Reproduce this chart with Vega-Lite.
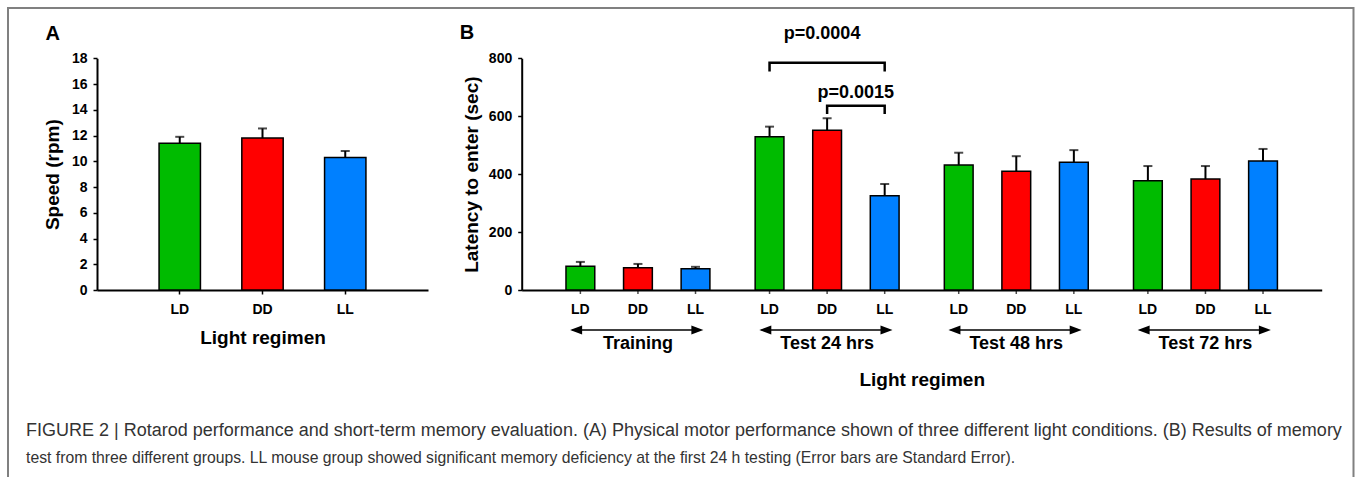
{
  "$schema": "https://vega.github.io/schema/vega-lite/v6.json",
  "width": 1345.5,
  "height": 475,
  "autosize": {"type": "none"},
  "padding": {"left": 8, "top": 8, "right": 4.5, "bottom": -6},
  "title": {
    "text": "FIGURE 2 | Rotarod performance and short-term memory evaluation. (A) Physical motor performance shown of three different light conditions. (B) Results of memory",
    "subtitle": "test from three different groups. LL mouse group showed significant memory deficiency at the first 24 h testing (Error bars are Standard Error).",
    "orient": "bottom",
    "anchor": "start",
    "frame": "group",
    "offset": -61,
    "dx": 18,
    "font": "Liberation Sans",
    "fontSize": 18,
    "fontWeight": "normal",
    "color": "#333333",
    "subtitleFont": "Liberation Sans",
    "subtitleFontSize": 15.75,
    "subtitleFontWeight": "normal",
    "subtitleColor": "#333333",
    "subtitlePadding": 11
  },
  "config": {
    "font": "Liberation Sans",
    "view": {"stroke": "#808080", "strokeWidth": 2},
    "axis": {
      "grid": false,
      "domainColor": "black",
      "domainWidth": 2,
      "tickColor": "black",
      "tickWidth": 1.5,
      "tickSize": 4,
      "labelFont": "Liberation Sans",
      "labelFontWeight": "bold",
      "labelFontSize": 14,
      "labelColor": "black",
      "titleFont": "Liberation Sans",
      "titleFontWeight": "bold",
      "titleFontSize": 19,
      "titleColor": "black"
    }
  },
  "datasets": {
    "speed": [
      {"regimen": "LD", "speed": 11.4, "upper": 11.9},
      {"regimen": "DD", "speed": 11.8, "upper": 12.55},
      {"regimen": "LL", "speed": 10.3, "upper": 10.8}
    ],
    "latency": [
      {"session": "Training", "regimen": "LD", "latency": 82, "upper": 97},
      {"session": "Training", "regimen": "DD", "latency": 77, "upper": 90},
      {"session": "Training", "regimen": "LL", "latency": 73, "upper": 80},
      {"session": "Test 24 hrs", "regimen": "LD", "latency": 529, "upper": 564},
      {"session": "Test 24 hrs", "regimen": "DD", "latency": 552, "upper": 593},
      {"session": "Test 24 hrs", "regimen": "LL", "latency": 325, "upper": 366},
      {"session": "Test 48 hrs", "regimen": "LD", "latency": 432, "upper": 474},
      {"session": "Test 48 hrs", "regimen": "DD", "latency": 410, "upper": 462},
      {"session": "Test 48 hrs", "regimen": "LL", "latency": 441, "upper": 483},
      {"session": "Test 72 hrs", "regimen": "LD", "latency": 377, "upper": 428},
      {"session": "Test 72 hrs", "regimen": "DD", "latency": 383, "upper": 428},
      {"session": "Test 72 hrs", "regimen": "LL", "latency": 445, "upper": 487}
    ],
    "sessions": [
      {"session": "Training"},
      {"session": "Test 24 hrs"},
      {"session": "Test 48 hrs"},
      {"session": "Test 72 hrs"}
    ],
    "brackets": [
      {"bracket": "LD vs LL", "session": "Test 24 hrs", "regimen": "LD", "level": 754, "i": 1},
      {"bracket": "LD vs LL", "session": "Test 24 hrs", "regimen": "LD", "level": 785, "i": 2},
      {"bracket": "LD vs LL", "session": "Test 24 hrs", "regimen": "LL", "level": 785, "i": 3},
      {"bracket": "LD vs LL", "session": "Test 24 hrs", "regimen": "LL", "level": 754, "i": 4},
      {"bracket": "DD vs LL", "session": "Test 24 hrs", "regimen": "DD", "level": 608, "i": 1},
      {"bracket": "DD vs LL", "session": "Test 24 hrs", "regimen": "DD", "level": 636, "i": 2},
      {"bracket": "DD vs LL", "session": "Test 24 hrs", "regimen": "LL", "level": 636, "i": 3},
      {"bracket": "DD vs LL", "session": "Test 24 hrs", "regimen": "LL", "level": 608, "i": 4}
    ],
    "pvalues": [
      {"session": "Test 24 hrs", "regimen": "DD", "level": 884, "label": "p=0.0004"}
    ],
    "pvalues2": [
      {"session": "Test 24 hrs", "regimen": "LL", "level": 679, "label": "p=0.0015"}
    ]
  },
  "layer": [
    {
      "data": {"name": "speed"},
      "layer": [
        {
          "mark": {"type": "bar", "stroke": "black", "strokeWidth": 1.5},
          "encoding": {
            "x": {
              "field": "regimen", "type": "nominal", "sort": null,
              "scale": {"domain": ["LD", "DD", "LL"], "range": [89, 420], "paddingInner": 0.5, "paddingOuter": 0.75},
              "axis": {"orient": "bottom", "offset": -193, "title": "Light regimen", "labelAngle": 0, "labelPadding": 8, "titlePadding": 12}
            },
            "y": {
              "field": "speed", "type": "quantitative",
              "scale": {"domain": [0, 18], "range": [282, 50.3], "nice": false},
              "axis": {"orient": "left", "offset": -89, "values": [0, 2, 4, 6, 8, 10, 12, 14, 16, 18], "title": "Speed (rpm)", "labelPadding": 6, "titlePadding": 9}
            },
            "color": {
              "field": "regimen", "type": "nominal",
              "scale": {"domain": ["LD", "DD", "LL"], "range": ["#00BB00", "#FF0000", "#0080FF"]},
              "legend": null
            }
          }
        },
        {
          "mark": {"type": "rule", "strokeWidth": 2, "color": "black"},
          "encoding": {
            "x": {"field": "regimen", "type": "nominal", "sort": null},
            "y": {"field": "speed", "type": "quantitative"},
            "y2": {"field": "upper"}
          }
        },
        {
          "mark": {"type": "tick", "thickness": 2, "size": 9, "color": "black"},
          "encoding": {
            "x": {"field": "regimen", "type": "nominal", "sort": null},
            "y": {"field": "upper", "type": "quantitative"}
          }
        },
        {
          "data": {"values": [{"panel": "A"}]},
          "mark": {"type": "text", "fontSize": 20, "fontWeight": "bold", "color": "black", "dx": -127, "baseline": "middle", "align": "center"},
          "encoding": {
            "x": {"datum": "LD"},
            "y": {"datum": 19.9},
            "text": {"field": "panel"}
          }
        }
      ]
    },
    {
      "data": {"name": "latency"},
      "layer": [
        {
          "mark": {"type": "tick", "orient": "vertical", "size": 8, "thickness": 1.5, "color": "black"},
          "encoding": {
            "x": {
              "field": "session", "type": "nominal", "sort": null,
              "scale": {"domain": ["Training", "Test 24 hrs", "Test 48 hrs", "Test 72 hrs"], "range": [513.7, 1313.7], "paddingInner": 0.087, "paddingOuter": 0.158},
              "axis": {"orient": "bottom", "offset": -193, "title": "Light regimen", "labelAngle": 0, "ticks": false, "labelPadding": 44, "labelFontSize": 18, "titlePadding": 18}
            },
            "xOffset": {
              "field": "regimen", "type": "nominal", "sort": null,
              "scale": {"domain": ["LD", "DD", "LL"], "paddingInner": 0.5, "paddingOuter": 0.25}
            },
            "y": {
              "datum": 0,
              "scale": {"domain": [0, 800], "range": [282, 50.3], "nice": false},
              "axis": {"orient": "left", "offset": -513.7, "values": [0, 200, 400, 600, 800], "title": "Latency to enter (sec)", "labelPadding": 6, "titlePadding": 7}
            }
          }
        },
        {
          "mark": {"type": "bar", "stroke": "black", "strokeWidth": 1.5},
          "encoding": {
            "x": {"field": "session", "type": "nominal", "sort": null},
            "xOffset": {"field": "regimen", "type": "nominal", "sort": null},
            "y": {"field": "latency", "type": "quantitative"},
            "color": {"field": "regimen", "type": "nominal", "legend": null}
          }
        },
        {
          "mark": {"type": "rule", "strokeWidth": 2, "color": "black"},
          "encoding": {
            "x": {"field": "session", "type": "nominal", "sort": null},
            "xOffset": {"field": "regimen", "type": "nominal", "sort": null},
            "y": {"field": "latency", "type": "quantitative"},
            "y2": {"field": "upper"}
          }
        },
        {
          "mark": {"type": "tick", "thickness": 2, "size": 9, "color": "black"},
          "encoding": {
            "x": {"field": "session", "type": "nominal", "sort": null},
            "xOffset": {"field": "regimen", "type": "nominal", "sort": null},
            "y": {"field": "upper", "type": "quantitative"}
          }
        },
        {
          "mark": {"type": "text", "fontSize": 14, "fontWeight": "bold", "color": "black", "baseline": "middle", "dy": 19.5},
          "encoding": {
            "x": {"field": "session", "type": "nominal", "sort": null},
            "xOffset": {"field": "regimen", "type": "nominal", "sort": null},
            "y": {"datum": 0},
            "text": {"field": "regimen"}
          }
        },
        {
          "data": {"name": "sessions"},
          "mark": {"type": "rule", "strokeWidth": 1.5, "color": "black"},
          "encoding": {
            "x": {"field": "session", "type": "nominal", "sort": null, "bandPosition": 0.12},
            "x2": {"field": "session", "bandPosition": 0.86},
            "y": {"datum": -138}
          }
        },
        {
          "data": {"name": "sessions"},
          "mark": {"type": "point", "filled": true, "opacity": 1, "color": "black", "size": 144, "shape": "M-1,0L1,-0.75L1,0.75Z"},
          "encoding": {
            "x": {"field": "session", "type": "nominal", "sort": null, "bandPosition": 0.142},
            "y": {"datum": -138}
          }
        },
        {
          "data": {"name": "sessions"},
          "mark": {"type": "point", "filled": true, "opacity": 1, "color": "black", "size": 144, "shape": "M1,0L-1,-0.75L-1,0.75Z"},
          "encoding": {
            "x": {"field": "session", "type": "nominal", "sort": null, "bandPosition": 0.844},
            "y": {"datum": -138}
          }
        },
        {
          "data": {"name": "brackets"},
          "mark": {"type": "line", "strokeWidth": 2.5, "color": "black"},
          "encoding": {
            "x": {"field": "session", "type": "nominal", "sort": null},
            "xOffset": {"field": "regimen", "type": "nominal", "sort": null},
            "y": {"field": "level", "type": "quantitative"},
            "detail": {"field": "bracket"},
            "order": {"field": "i", "type": "quantitative"}
          }
        },
        {
          "data": {"name": "pvalues"},
          "mark": {"type": "text", "fontSize": 18, "fontWeight": "bold", "color": "black", "baseline": "middle", "dx": -5},
          "encoding": {
            "x": {"field": "session", "type": "nominal", "sort": null},
            "xOffset": {"field": "regimen", "type": "nominal", "sort": null},
            "y": {"field": "level", "type": "quantitative"},
            "text": {"field": "label"}
          }
        },
        {
          "data": {"name": "pvalues2"},
          "mark": {"type": "text", "fontSize": 18, "fontWeight": "bold", "color": "black", "baseline": "middle", "dx": -29},
          "encoding": {
            "x": {"field": "session", "type": "nominal", "sort": null},
            "xOffset": {"field": "regimen", "type": "nominal", "sort": null},
            "y": {"field": "level", "type": "quantitative"},
            "text": {"field": "label"}
          }
        },
        {
          "data": {"values": [{"panel": "B"}]},
          "mark": {"type": "text", "fontSize": 20, "fontWeight": "bold", "color": "black", "dx": -171, "baseline": "middle", "align": "center"},
          "encoding": {
            "x": {"datum": "Training"},
            "y": {"datum": 886},
            "text": {"field": "panel"}
          }
        }
      ]
    }
  ],
  "resolve": {
    "scale": {"x": "independent", "y": "independent"},
    "axis": {"x": "independent", "y": "independent"}
  }
}
